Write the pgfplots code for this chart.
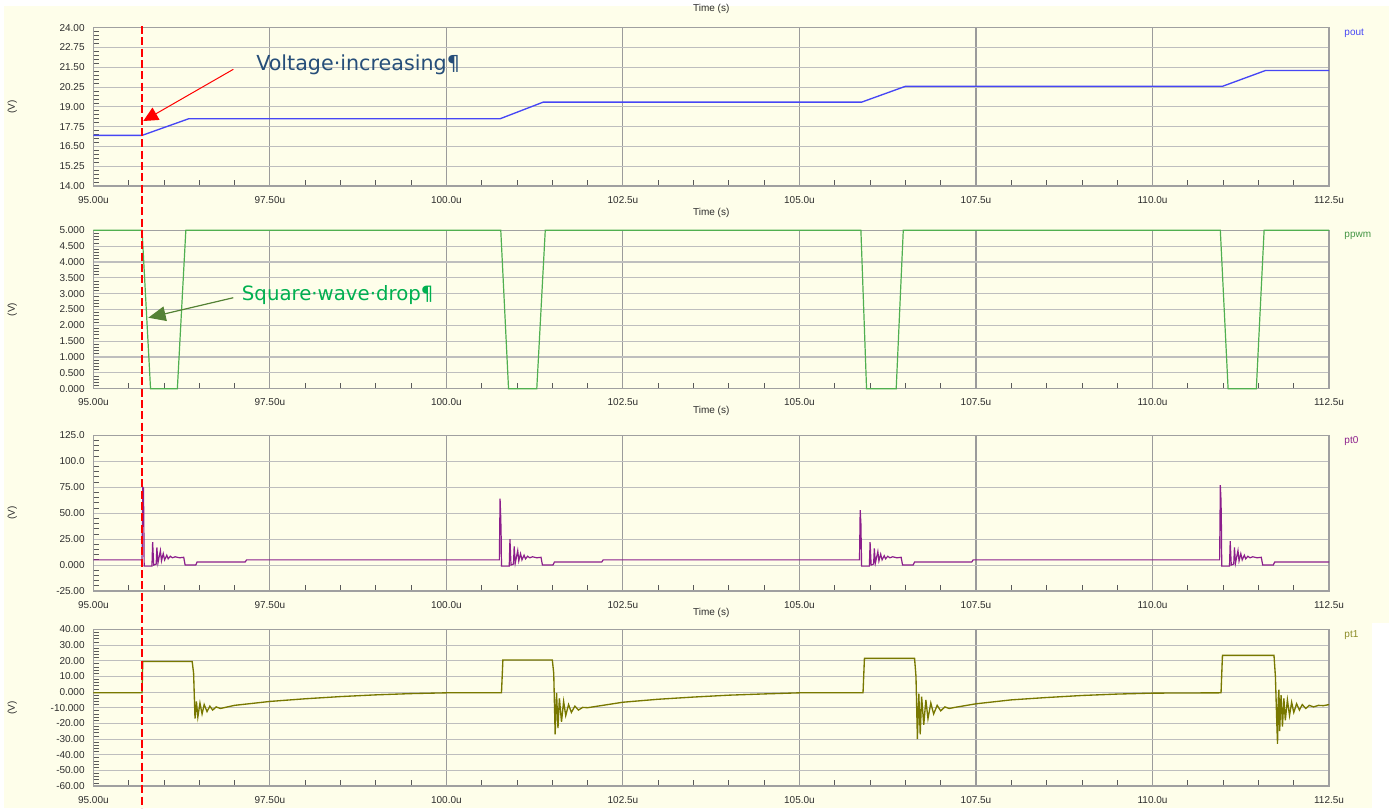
\documentclass[border=0pt]{standalone}
\usepackage{fontspec}
\setmainfont{Liberation Sans}
\newfontfamily\dejavu{DejaVu Sans}
\usepackage{pgfplots}
\pgfplotsset{compat=1.18}
\usetikzlibrary{arrows.meta}

\definecolor{bgcream}{RGB}{254,254,234}
\definecolor{gridgray}{RGB}{190,190,190}
\definecolor{vgridgray}{RGB}{155,155,155}
\definecolor{framegray}{RGB}{160,160,160}
\definecolor{ticktext}{RGB}{45,45,45}
\definecolor{poutblue}{RGB}{70,70,245}
\definecolor{ppwmgreen}{RGB}{80,175,80}
\definecolor{ptzero}{RGB}{140,30,140}
\definecolor{ptone}{RGB}{120,120,0}
\definecolor{annblue}{RGB}{38,78,121}
\definecolor{anngreen}{RGB}{0,176,80}
\definecolor{arrowgreen}{RGB}{84,130,53}

\tikzset{tag/.style={anchor=west, font={\fontsize{7.5}{8}\selectfont}, xshift=8pt, yshift=-4.5pt}}

\pgfplotsset{
  panel/.style={
    scale only axis, width=926.8pt, xmin=95, xmax=112.5,
    anchor=south west, clip=false,
    axis line style={framegray, line width=1pt},
    grid=major, grid style={gridgray, line width=0.8pt},
    major x grid style={vgridgray, line width=0.8pt},
    tick align=inside, xtick pos=bottom, ytick pos=left,
    xtick={95,97.5,100,102.5,105,107.5,110,112.5},
    xticklabels={95.00u,97.50u,100.0u,102.5u,105.0u,107.5u,110.0u,112.5u},
    minor x tick num=4, minor y tick num=4,
    major tick length=0pt, minor tick length=4.5pt,
    tick style={gray!70!black, line width=0.6pt},
    ticklabel style={font={\fontsize{7.5}{8}\selectfont}, text=ticktext},
    yticklabel style={xshift=-3pt},
    xticklabel style={yshift=-4pt},
    xlabel={Time (s)},
    xlabel style={at={(axis description cs:0.5,1)}, anchor=center,
      font={\fontsize{7.5}{8}\selectfont}, text=ticktext},
    ylabel={(V)},
    ylabel style={at={(axis description cs:-0.0656,0.5)}, anchor=center,
      font={\fontsize{7.5}{8}\selectfont}, text=ticktext},
  },
}

\begin{document}
\begin{tikzpicture}
\begin{scope}[x=0.75pt,y=0.75pt]
  \path[use as bounding box] (0,0) rectangle (1389,807);
  \fill[white] (0,0) rectangle (1389,807);
  \fill[bgcream] (4,0) rectangle (1389,802);
  \fill[white] (1372,0) rectangle (1389,185);
\end{scope}

% pout
\begin{axis}[panel, at={(70pt,466.5pt)}, height=118.7pt,
  ymin=14, ymax=24,
  ytick={14,15.25,16.5,17.75,19,20.25,21.5,22.75,24},
  yticklabels={14.00,15.25,16.50,17.75,19.00,20.25,21.50,22.75,24.00},
  xlabel style={yshift=14pt}]
\addplot[poutblue, line width=1pt] coordinates {
  (95,17.2)(95.69,17.2)(96.35,18.25)(100.76,18.25)(101.37,19.3)
  (105.88,19.3)(106.5,20.3)(110.99,20.3)(111.6,21.3)(112.5,21.3)};
\node[tag, text=poutblue] at (rel axis cs:1,1) {pout};
\end{axis}

% ppwm
\begin{axis}[panel, at={(70pt,314.5pt)}, height=118.8pt,
  ymin=0, ymax=5,
  ytick={0,0.5,1,1.5,2,2.5,3,3.5,4,4.5,5},
  yticklabels={0.000,0.500,1.000,1.500,2.000,2.500,3.000,3.500,4.000,4.500,5.000},
  xlabel style={yshift=13pt}]
\addplot[ppwmgreen, line width=0.9pt] coordinates {
  (95,5)(95.69,5)(95.81,0)(96.19,0)(96.31,5)
  (100.77,5)(100.88,0)(101.28,0)(101.40,5)
  (105.87,5)(105.95,0)(106.37,0)(106.47,5)
  (110.96,5)(111.07,0)(111.47,0)(111.58,5)(112.5,5)};
\node[tag, text=ppwmgreen!85!black] at (rel axis cs:1,1) {ppwm};
\end{axis}

% pt0
\begin{axis}[panel, at={(70pt,162.75pt)}, height=116.8pt,
  ymin=-25, ymax=125,
  ytick={-25,0,25,50,75,100,125},
  yticklabels={-25.00,0.000,25.00,50.00,75.00,100.0,125.0},
  xlabel style={yshift=18pt}]
\addplot[ptzero, line width=0.9pt] coordinates {
  (95,5)(95.69,5)(95.70,75)(95.71,74)(95.715,40)(95.72,-1)(95.83,-1)(95.84,22)
  (95.855,0)(95.89,1)(95.90,17)(95.915,2)(95.95,14)(95.965,4)(95.99,11)(96.01,5)
  (96.04,9.5)(96.06,6)(96.09,8.5)(96.12,7)(96.16,8)(96.22,7)(96.28,7.5)(96.30,0)
  (96.45,0)(96.47,3)(97.15,3)(97.17,5)
  (100.75,5)(100.76,64)(100.77,45)(100.775,30)(100.78,-1)(100.89,-1)(100.90,25)
  (100.915,0)(100.95,1)(100.96,18)(100.975,2)(101.01,14)(101.025,4)(101.05,11)
  (101.07,5)(101.10,9.5)(101.12,6)(101.15,8.5)(101.18,7)(101.22,8)(101.28,7)
  (101.34,7.5)(101.36,0)(101.51,0)(101.53,3)(102.2,3)(102.22,5)
  (105.85,5)(105.86,53)(105.87,40)(105.875,20)(105.88,-1)(105.99,-1)(106.00,22)
  (106.015,0)(106.05,1)(106.06,16)(106.075,2)(106.11,13)(106.125,4)(106.15,10.5)
  (106.17,5)(106.20,9)(106.22,6)(106.25,8.5)(106.28,7)(106.32,8)(106.38,7)
  (106.44,7.5)(106.46,0)(106.61,0)(106.63,3)(107.44,3)(107.46,5)
  (110.95,5)(110.96,77)(110.97,62)(110.975,40)(110.98,-1)(111.09,-1)(111.10,23)
  (111.115,0)(111.15,1)(111.16,17)(111.175,2)(111.21,14)(111.225,4)(111.25,11)
  (111.27,5)(111.30,9.5)(111.32,6)(111.35,8.5)(111.38,7)(111.42,8)(111.48,7)
  (111.54,7.5)(111.56,0)(111.71,0)(111.73,3)(112.5,3)};
\node[tag, text=ptzero] at (rel axis cs:1,1) {pt0};
\end{axis}

% pt1
\begin{axis}[panel, at={(70pt,16.5pt)}, height=117.5pt,
  ymin=-60, ymax=40,
  ytick={-60,-50,-40,-30,-20,-10,0,10,20,30,40},
  yticklabels={-60.00,-50.00,-40.00,-30.00,-20.00,-10.000,0.000,10.00,20.00,30.00,40.00},
  xlabel style={yshift=12pt}]
\addplot[ptone, line width=1pt] coordinates {
  (95,-0.5)(95.69,-0.5)(95.70,19.5)(96.40,19.5)(96.42,12)(96.44,-17)(96.46,-6)
  (96.48,-16)(96.51,-7)(96.54,-14)(96.57,-8)(96.61,-12.5)(96.65,-9)(96.69,-11.5)
  (96.74,-9.5)(96.80,-10.5)(96.87,-9.8)(97.0,-8.5)(97.5,-6)(98.0,-4.3)(98.5,-2.9)
  (99.0,-1.8)(99.5,-1)(100.0,-0.5)(100.78,-0.5)
  (100.80,20.5)(101.50,20.5)(101.52,12)(101.54,-27)(101.56,-0.5)(101.58,-23)
  (101.60,-4)(101.63,-19)(101.66,-6)(101.69,-15)(101.73,-8)(101.77,-13)(101.82,-9)
  (101.87,-11.5)(101.93,-9.8)(102.0,-10)(102.5,-6.5)(103.0,-4.6)(103.5,-3.2)
  (104.0,-2)(104.5,-1.2)(105.0,-0.5)(105.90,-0.5)
  (105.92,21.5)(106.63,21.5)(106.65,10)(106.67,-30)(106.69,-1)(106.71,-27)
  (106.73,-3)(106.76,-21)(106.79,-5)(106.82,-17)(106.86,-7)(106.90,-14)
  (106.95,-8.5)(107.0,-12)(107.06,-9.5)(107.12,-10.5)(107.2,-9.8)(107.5,-7.5)
  (108.0,-5)(108.5,-3.5)(109.0,-2.2)(109.5,-1.3)(110.0,-0.7)(110.97,-0.5)
  (110.99,23.4)(111.72,23.4)(111.74,10)(111.76,-20)(111.77,-33)(111.78,-5)
  (111.79,1.5)(111.80,-25)(111.82,-2)(111.84,-22)(111.86,-4)(111.88,-18)
  (111.91,-5)(111.94,-15)(111.97,-6.5)(112.00,-13)(112.04,-7.5)(112.08,-11.5)
  (112.12,-8)(112.17,-10.5)(112.22,-8.5)(112.28,-9.5)(112.35,-8.5)(112.42,-8.7)
  (112.5,-8)};
\node[tag, text=ptone!85!white] at (rel axis cs:1,1) {pt1};
\end{axis}

% annotations
\begin{scope}[x=0.75pt,y=0.75pt]
  \draw[red, line width=1.5pt, dash pattern=on 6pt off 2.5pt] (142,782) -- (142,0);
  \draw[red, line width=0.75pt, -{Triangle[length=11pt,width=10.5pt]}]
    (233.3,738.7) -- (143.3,687);
  \draw[arrowgreen, line width=0.9pt, -{Triangle[length=13pt,width=11pt]}]
    (233.3,510.3) -- (148.3,490.3);
  \node[anchor=base west, inner sep=0, text=annblue,
    font={\dejavu\fontsize{15.5}{18}\selectfont}] at (256,737.7) {Voltage·increasing¶};
  \node[anchor=base west, inner sep=0, text=anngreen,
    font={\dejavu\fontsize{14.8}{18}\selectfont}] at (241.7,507.7) {Square·wave·drop¶};
\end{scope}
\end{tikzpicture}
\end{document}
